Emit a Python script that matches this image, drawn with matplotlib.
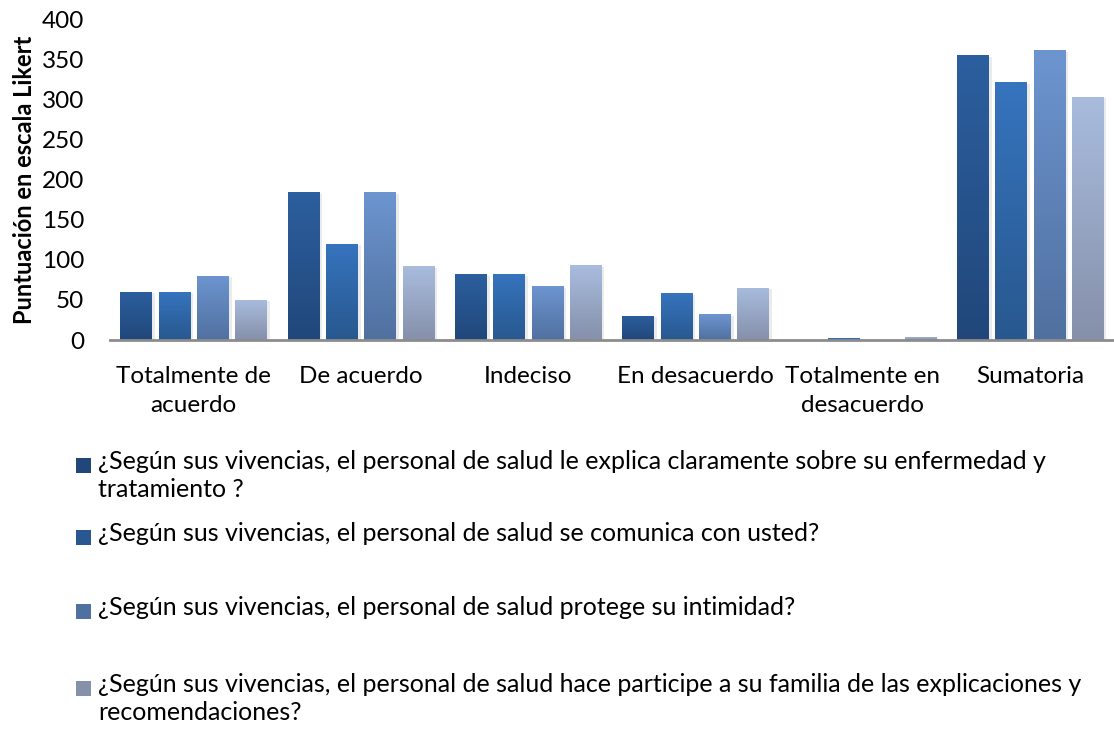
import matplotlib
matplotlib.use('Agg')
import matplotlib.pyplot as plt
import matplotlib.patches as mpatches
import matplotlib.patheffects as pe
import numpy as np
from matplotlib.colors import LinearSegmentedColormap

plt.rcParams['font.family'] = ['Lato', 'DejaVu Sans']

# ---------------------------------------------------------------------------- #
# DATA

categories = ['Totalmente de\nacuerdo', 'De acuerdo', 'Indeciso', 'En desacuerdo',
              'Totalmente en\ndesacuerdo', 'Sumatoria']

explica = [60, 184, 82, 30, 0, 355]
comunica = [60, 120, 82, 58, 2, 321]
intimidad = [80, 184, 67, 32, 0, 361]
familia = [50, 92, 93, 65, 4, 303]

series_labels = [
    '¿Según sus vivencias, el personal de salud le explica claramente sobre su enfermedad y\ntratamiento ?',
    '¿Según sus vivencias, el personal de salud se comunica con usted?',
    '¿Según sus vivencias, el personal de salud protege su intimidad?',
    '¿Según sus vivencias, el personal de salud hace participe a su familia de las explicaciones y\nrecomendaciones?',
]

# (top, bottom) gradient colours per series
grad_colors = [('#2C5F9F', '#21477A'),
               ('#3674BE', '#28588F'),
               ('#6D95D0', '#50709F'),
               ('#A9BCDE', '#8590AA')]

# ---------------------------------------------------------------------------- #
# PLOT

fig = plt.figure(figsize=(11.14, 7.32), dpi=100)
ax = fig.add_axes([110 / 1114, 1 - 340 / 732, 1004 / 1114, 321 / 732])

x = np.arange(len(categories))
step = 0.229
width = 0.19
all_series = [explica, comunica, intimidad, familia]

grad = np.linspace(0, 1, 256).reshape(-1, 1)
for i, vals in enumerate(all_series):
    offs = (i - 1.5) * step
    cmap = LinearSegmentedColormap.from_list('g%d' % i, [grad_colors[i][1], grad_colors[i][0]])
    bars = ax.bar(x + offs, vals, width, color=grad_colors[i][1], edgecolor='none', zorder=2,
                  path_effects=[pe.SimplePatchShadow(offset=(2, -1), alpha=0.08, shadow_rgbFace='black'),
                                pe.Normal()])
    for b in bars:
        h = b.get_height()
        if h <= 0:
            continue
        bx = b.get_x()
        im = ax.imshow(grad, cmap=cmap, origin='lower', aspect='auto',
                       extent=[bx, bx + b.get_width(), 0, h], zorder=3)
        im.set_clip_path(b)

ax.set_xlim(-0.5, len(categories) - 0.5)
ax.set_ylim(0, 400)
ax.set_yticks(np.arange(0, 401, 50))
ax.set_xticks(x)
ax.set_xticklabels(categories, fontsize=17.5, linespacing=1.42)
ax.tick_params(axis='both', length=0, labelsize=17.5)
ax.tick_params(axis='x', pad=19)
ax.tick_params(axis='y', pad=18.5)
for side in ['top', 'right', 'left']:
    ax.spines[side].set_visible(False)
ax.spines['bottom'].set_color('#8C8C8C')
ax.spines['bottom'].set_linewidth(2)
ax.spines['bottom'].set_zorder(5)
ax.set_ylabel('Puntuación en escala Likert', fontsize=17, fontweight='bold', labelpad=4)

# Legend drawn by hand to mimic the spaced out Excel layout
legend_rows = [465, 537, 611, 688]
for i, lab in enumerate(series_labels):
    yc = legend_rows[i]
    sq = mpatches.Rectangle((76 / 1114, 1 - (yc + 8) / 732), 15 / 1114, 15 / 732,
                            transform=fig.transFigure, facecolor=grad_colors[i][1],
                            edgecolor='none')
    fig.patches.append(sq)
    fig.text(98 / 1114, 1 - (yc - 15) / 732, lab, fontsize=18, va='top', ha='left',
             linespacing=1.27)

fig.savefig('out.png', dpi=100)
